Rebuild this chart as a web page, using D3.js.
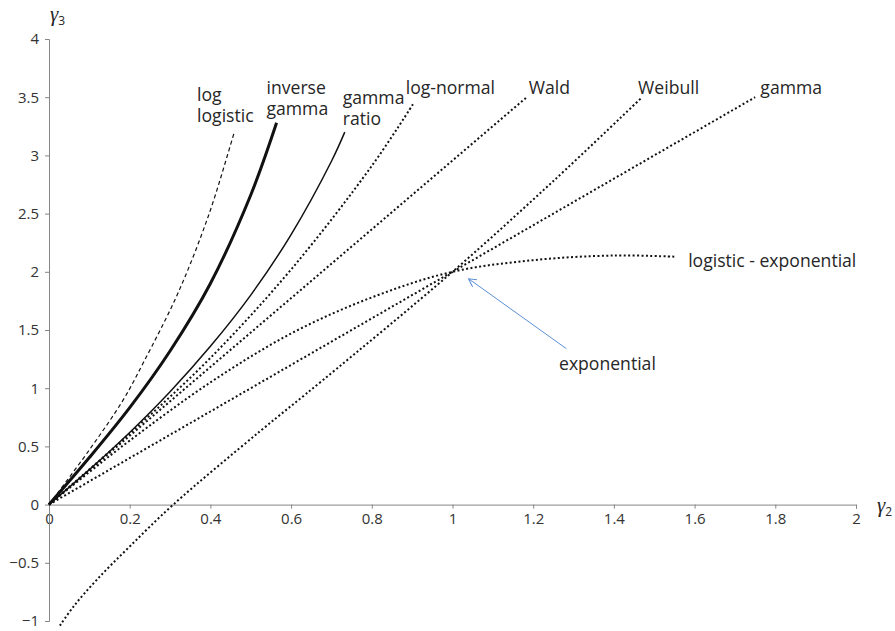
<!DOCTYPE html>
<html>
<head>
<meta charset="utf-8">
<script src="https://cdn.jsdelivr.net/npm/d3@7"></script>
<style>
  body { margin: 0; background: #fff; }
  svg text { font-family: "Open Sans", "Noto Sans", sans-serif; fill: #262626; }
</style>
</head>
<body>
<svg id="plot" width="895" height="631"></svg>
<script>
// values: [gamma2, gamma3]
const logLogistic = [[0,0],[0.1,0.47],[0.184,0.9],[0.234,1.22],[0.32,1.82],[0.395,2.48],[0.449,3.08],[0.46,3.21]];
const inverseGamma = [[0,0],[0.1,0.404],[0.2,0.833],[0.3,1.32],[0.4,1.9],[0.5,2.66],[0.564,3.28]];
const gammaRatio = [[0,0],[0.1,0.3],[0.2,0.62],[0.3,0.97],[0.4,1.36],[0.5,1.8],[0.6,2.32],[0.7,2.95],[0.733,3.2]];
const logNormal = [[0,0],[0.2,0.61],[0.4,1.26],[0.6,2.02],[0.8,2.91],[0.904,3.45]];
const wald = [[0,0],[1.184,3.5]];
const weibull = [[0.027,-1.04],[0.062,-0.87],[0.12,-0.64],[0.2,-0.36],[0.308,0],[0.523,0.63],[0.679,1.07],[1,2],[1.25,2.78],[1.47,3.5]];
const gamma = [[0,0],[1.75,3.5]];
const logisticExp = [[0,0],[0.1,0.28],[0.2,0.55],[0.4,1.05],[0.6,1.47],[0.8,1.78],[1,2],[1.2,2.1],[1.4,2.14],[1.55,2.13]];

const xTicks = [0,0.2,0.4,0.6,0.8,1,1.2,1.4,1.6,1.8,2];
const yTicks = [-1,-0.5,0,0.5,1,1.5,2,2.5,3,3.5,4];

const svg = d3.select('#plot');

const x = d3.scaleLinear().domain([0,2]).range([49,856]);
const y = d3.scaleLinear().domain([-1,4]).range([621,39]);

//Axes
const axisColor = '#868686';
const fmt = (d) => d < 0 ? '\u2212' + Math.abs(d) : String(d);

const xAxis = svg.append('g')
    .attr('transform',`translate(0,${y(0)})`)
    .call(d3.axisBottom(x).tickValues(xTicks).tickSize(4).tickPadding(5).tickFormat(fmt));

const yAxis = svg.append('g')
    .attr('transform',`translate(${x(0)},0)`)
    .call(d3.axisLeft(y).tickValues(yTicks).tickSize(4).tickPadding(6).tickFormat(fmt));

[xAxis,yAxis].forEach(function(a){
    a.select('.domain').attr('stroke',axisColor).attr('stroke-width',1);
    a.selectAll('.tick line').attr('stroke',axisColor);
    a.selectAll('.tick text').attr('font-size',15).style('fill','#333');
});

//Axis titles
function axisTitle(px,py,sub){
    const t = svg.append('text').attr('x',px).attr('y',py);
    t.append('tspan')
        .style('font-family','"Liberation Serif", "DejaVu Serif", serif')
        .attr('font-style','italic')
        .attr('font-size',21)
        .text('\u03b3');
    t.append('tspan').attr('font-size',12).attr('dy',4).text(sub);
}
axisTitle(877,512,'2');
axisTitle(50,21,'3');

//Curves
const line = d3.line()
    .x((d)=>x(d[0]))
    .y((d)=>y(d[1]))
    .curve(d3.curveCatmullRom.alpha(0.5));

const dots = {width:2, dash:'2,2.4'};
const series = [
    {data:logLogistic, width:1.2, dash:'4,3'},
    {data:inverseGamma, width:3, dash:null},
    {data:gammaRatio, width:1.5, dash:null},
    {data:logNormal, ...dots},
    {data:wald, ...dots},
    {data:weibull, ...dots},
    {data:gamma, ...dots},
    {data:logisticExp, ...dots}
];

svg.append('g').selectAll('path')
    .data(series)
    .enter()
    .append('path')
        .attr('d',(d)=>line(d.data))
        .attr('fill','none')
        .attr('stroke','#111')
        .attr('stroke-width',(d)=>d.width)
        .attr('stroke-dasharray',(d)=>d.dash);

//Curve labels (position in data units)
const labels = [
    {text:['log','logistic'], x:0.367, y:3.47},
    {text:['inverse','gamma'], x:0.539, y:3.53},
    {text:['gamma','ratio'], x:0.728, y:3.44},
    {text:['log-normal'], x:0.884, y:3.53},
    {text:['Wald'], x:1.189, y:3.53},
    {text:['Weibull'], x:1.46, y:3.53},
    {text:['gamma'], x:1.763, y:3.53},
    {text:['logistic - exponential'], x:1.584, y:2.04},
    {text:['exponential'], x:1.264, y:1.16}
];

labels.forEach(function(l){
    const t = svg.append('text')
        .attr('x',x(l.x))
        .attr('y',y(l.y))
        .attr('font-size',17.6);
    l.text.forEach(function(s,i){
        t.append('tspan').attr('x',x(l.x)).attr('dy',i ? 21 : 0).text(s);
    });
});

//Arrow pointing at the exponential point
svg.append('defs').append('marker')
    .attr('id','arrow')
    .attr('viewBox','0 0 10 10')
    .attr('refX',9).attr('refY',5)
    .attr('markerWidth',9).attr('markerHeight',9)
    .attr('markerUnits','userSpaceOnUse')
    .attr('orient','auto')
  .append('path')
    .attr('d','M0,0 L9,5 L0,10')
    .attr('fill','none')
    .attr('stroke','#5b8fd4')
    .attr('stroke-width',1.2);

svg.append('line')
    .attr('x1',x(1.282)).attr('y1',y(1.34))
    .attr('x2',x(1.04)).attr('y2',y(1.94))
    .attr('stroke','#5b8fd4')
    .attr('stroke-width',1)
    .attr('marker-end','url(#arrow)');
</script>
</body>
</html>
